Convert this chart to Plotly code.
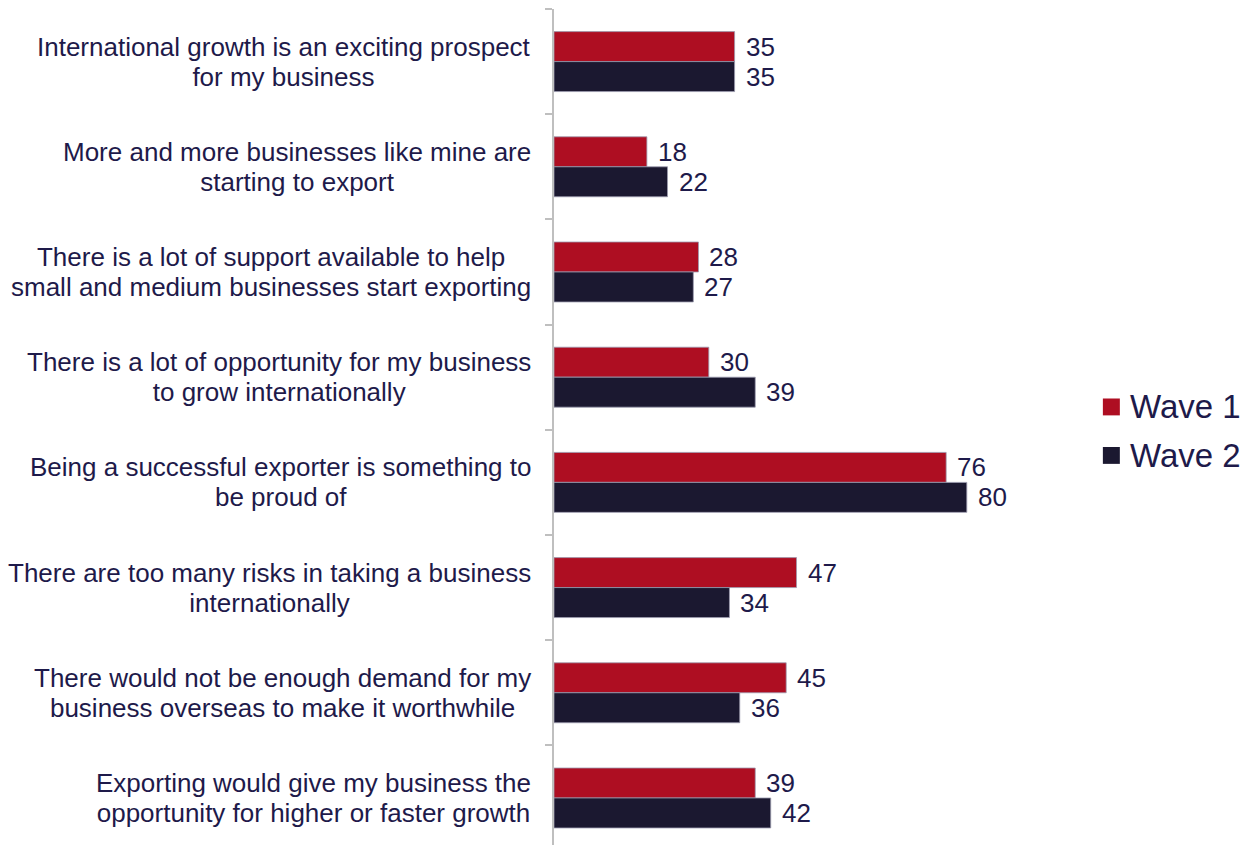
import plotly.graph_objects as go

statements = [
    ["International growth is an exciting prospect", "for my business"],
    ["More and more businesses like mine are", "starting to export"],
    ["There is a lot of support available to help", "small and medium businesses start exporting"],
    ["There is a lot of opportunity for my business", "to grow internationally"],
    ["Being a successful exporter is something to", "be proud of"],
    ["There are too many risks in taking a business", "internationally"],
    ["There would not be enough demand for my", "business overseas to make it worthwhile"],
    ["Exporting would give my business the", "opportunity for higher or faster growth"],
]
wave1 = [35, 18, 28, 30, 76, 47, 45, 39]
wave2 = [35, 22, 27, 39, 80, 34, 36, 42]
series_names = ["Wave 1", "Wave 2"]

RED = "#AE0E22"
NAVY = "#1B1830"
TEXT = "#1E1A4A"
AXIS = "#BFBFBF"
FONT = "Liberation Sans, Arial, sans-serif"

cats = [" ".join(s) for s in statements]

fig = go.Figure()
for name, vals, col in [(series_names[0], wave1, RED), (series_names[1], wave2, NAVY)]:
    fig.add_trace(go.Bar(
        y=cats, x=vals, name=name, orientation="h",
        marker=dict(color=col, line=dict(color="#9C9AAE", width=0.8)),
        showlegend=False,
    ))

annotations = []
# category labels, lines centred inside a right-aligned block
for c, lines in zip(cats, statements):
    txt = "<br>".join(f"<span style='font-size:26px'>{l}</span>" for l in lines)
    annotations.append(dict(
        xref="paper", yref="y", x=0, y=c, xanchor="right", yanchor="middle",
        xshift=-21, text=txt, align="center", showarrow=False,
        font=dict(family=FONT, size=23, color=TEXT),
    ))
# value labels next to each bar
for vals, ys in [(wave1, 15), (wave2, -15)]:
    for c, v in zip(cats, vals):
        annotations.append(dict(
            xref="x", yref="y", x=v, y=c, xanchor="left", yanchor="middle",
            xshift=9, yshift=ys, text=str(v), showarrow=False,
            font=dict(family=FONT, size=26, color=TEXT),
        ))
# legend
legend_y = [0.524, 0.466]
for name, col, yc in zip(series_names, [RED, NAVY], legend_y):
    annotations.append(dict(
        xref="paper", yref="paper", x=1.113, y=yc, xanchor="left", yanchor="middle",
        text=name, showarrow=False, font=dict(family=FONT, size=33, color=TEXT),
    ))
shapes = []
for col, yc in zip([RED, NAVY], legend_y):
    shapes.append(dict(
        type="rect", xref="paper", yref="paper",
        x0=1.0637, x1=1.0966, y0=yc - 0.0101, y1=yc + 0.0101,
        fillcolor=col, line=dict(width=0),
    ))

fig.update_layout(
    width=1251, height=845,
    margin=dict(l=554, r=181, t=9, b=0),
    paper_bgcolor="white", plot_bgcolor="white",
    barmode="group", bargap=0.43, bargroupgap=0,
    annotations=annotations, shapes=shapes,
    xaxis=dict(range=[0, 100], visible=False, fixedrange=True),
    yaxis=dict(
        type="category", categoryorder="array", categoryarray=cats,
        range=[7.447, -0.5], showticklabels=False, showgrid=False,
        zeroline=False, showline=True, linecolor=AXIS, linewidth=1.5,
        ticks="outside", ticklen=7, tickcolor=AXIS, tickwidth=1.5,
        tickson="boundaries",
    ),
)

fig.write_html("out.html")
